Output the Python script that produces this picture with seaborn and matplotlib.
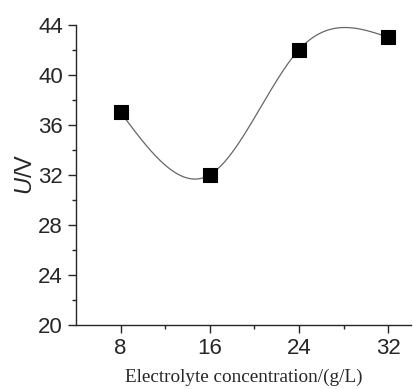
import matplotlib
matplotlib.use("Agg")
import matplotlib.pyplot as plt
import numpy as np
import pandas as pd
import seaborn as sns

# electrolyte concentration (g/L) vs voltage (V)
conc = [8, 16, 24, 32]
voltage = [37, 32, 42, 43]
xticks = [8, 16, 24, 32]
yticks = [20, 24, 28, 32, 36, 40, 44]


def natural_spline(x, y, n=300):
    # natural cubic spline through the points, like Origin's spline line
    x = np.asarray(x, float)
    y = np.asarray(y, float)
    k = len(x)
    h = np.diff(x)
    A = np.zeros((k, k))
    b = np.zeros(k)
    A[0, 0] = A[-1, -1] = 1
    for i in range(1, k - 1):
        A[i, i - 1] = h[i - 1]
        A[i, i] = 2 * (h[i - 1] + h[i])
        A[i, i + 1] = h[i]
        b[i] = 6 * ((y[i + 1] - y[i]) / h[i] - (y[i] - y[i - 1]) / h[i - 1])
    M = np.linalg.solve(A, b)
    xs = np.linspace(x[0], x[-1], n)
    idx = np.clip(np.searchsorted(x, xs) - 1, 0, k - 2)
    x0, x1 = x[idx], x[idx + 1]
    hh = x1 - x0
    ys = (M[idx] * (x1 - xs) ** 3 / (6 * hh) + M[idx + 1] * (xs - x0) ** 3 / (6 * hh)
          + (y[idx] / hh - M[idx] * hh / 6) * (x1 - xs)
          + (y[idx + 1] / hh - M[idx + 1] * hh / 6) * (xs - x0))
    return xs, ys


sns.set_style("ticks")
plt.rcParams['font.family'] = ['Liberation Sans', 'DejaVu Sans']
plt.rcParams['mathtext.fontset'] = 'custom'
plt.rcParams['mathtext.it'] = 'Liberation Sans:italic'
plt.rcParams['mathtext.rm'] = 'Liberation Sans'

df = pd.DataFrame({'conc': conc, 'voltage': voltage})
xs, ys = natural_spline(conc, voltage)
curve = pd.DataFrame({'conc': xs, 'voltage': ys})

fig = plt.figure(figsize=(4.13, 3.89), dpi=100)
ax = fig.add_axes([0.184, 0.1645, 0.81, 0.772])

sns.lineplot(data=curve, x='conc', y='voltage', ax=ax, color='#666666', lw=0.9)
sns.scatterplot(data=df, x='conc', y='voltage', ax=ax, marker='s', s=95,
                color='black', edgecolor='black', zorder=3)

ax.set_xlim(4, 34)
ax.set_ylim(20, 44)
ax.set_xticks(xticks)
ax.set_xticks([12, 20, 28], minor=True)
ax.set_yticks(yticks)
ax.set_yticks([22, 26, 30, 34, 38, 42], minor=True)
ax.tick_params(which='major', length=6, width=1, labelsize=16, direction='out')
ax.tick_params(which='minor', length=3, width=1, direction='out')

for s in ['top', 'right']:
    ax.spines[s].set_visible(False)
for s in ['left', 'bottom']:
    ax.spines[s].set_linewidth(1)

ax.set_xlabel('Electrolyte concentration/(g/L)', fontsize=13.8,
              family='Liberation Serif', labelpad=7)
ax.set_ylabel(r'$\mathit{U}$/V', fontsize=17, labelpad=1)

fig.savefig('out.png', dpi=100)
